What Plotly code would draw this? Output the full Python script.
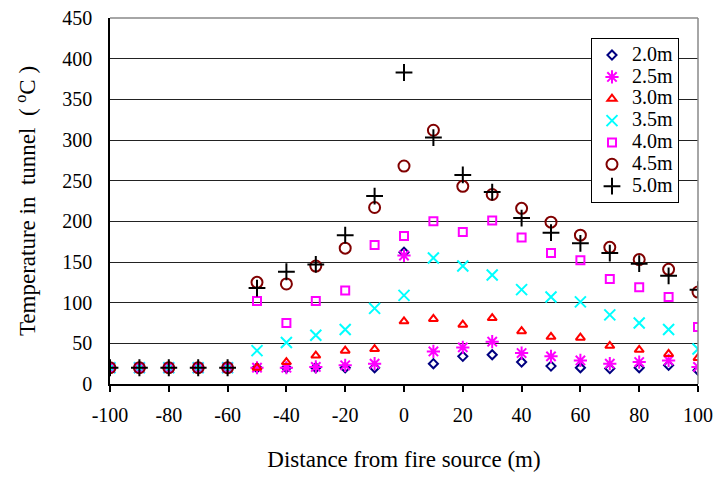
import plotly.graph_objects as go

distance = [-100, -90, -80, -70, -60, -50, -40, -30, -20, -10, 0, 10, 20, 30, 40, 50, 60, 70, 80, 90, 100]

t_2_0 = [20, 20, 20, 20, 20, 20, 20, 20, 20, 20, 162, 25, 34, 36, 27, 22, 20, 19, 20, 23, 17]
t_2_5 = [20, 20, 20, 20, 20, 20, 20, 21, 23, 25, 158, 40, 45, 52, 38, 34, 29, 25, 27, 29, 21]
t_3_0 = [20, 20, 20, 20, 20, 20, 27, 35, 41, 43, 77, 80, 73, 81, 65, 58, 57, 47, 42, 37, 32]
t_3_5 = [20, 20, 20, 20, 20, 41, 51, 60, 67, 93, 109, 155, 145, 134, 116, 107, 101, 85, 75, 67, 43]
t_4_0 = [20, 20, 20, 20, 20, 102, 75, 102, 115, 171, 182, 200, 187, 201, 180, 161, 152, 129, 119, 107, 70]
t_4_5 = [20, 20, 20, 20, 20, 125, 123, 145, 167, 217, 268, 312, 243, 233, 216, 199, 183, 168, 153, 141, 113]
t_5_0 = [20, 20, 20, 20, 20, 118, 138, 147, 183, 231, 383, 303, 257, 236, 204, 186, 173, 161, 148, 133, 116]

series_names = ["2.0m", "2.5m", "3.0m", "3.5m", "4.0m", "4.5m", "5.0m"]
series_values = [t_2_0, t_2_5, t_3_0, t_3_5, t_4_0, t_4_5, t_5_0]
x_ticks = [-100, -80, -60, -40, -20, 0, 20, 40, 60, 80, 100]
x_tick_text = ["-100", "-80", "-60", "-40", "-20", "0", "20", "40", "60", "80", "100"]
y_ticks = [0, 50, 100, 150, 200, 250, 300, 350, 400, 450]

styles = [
    dict(symbol="diamond-open", color="#000080", size=7, lw=2),
    dict(symbol="asterisk-open", color="#FF00FF", size=11, lw=2),
    dict(symbol="triangle-up-open", color="#FF0000", size=8, lw=2),
    dict(symbol="x-thin-open", color="#00FFFF", size=11, lw=2),
    dict(symbol="square-open", color="#FF00FF", size=8, lw=2),
    dict(symbol="circle-open", color="#800000", size=11, lw=2),
    dict(symbol="cross-thin-open", color="#000000", size=12, lw=2),
]

fig = go.Figure()
for name, vals, st in zip(series_names, series_values, styles):
    fig.add_trace(go.Scatter(
        x=distance, y=vals, mode="markers",
        name='<span style="font-size:20px">' + name + '</span>',
        marker=dict(symbol=st["symbol"], size=st["size"], color=st["color"],
                    line=dict(width=st["lw"], color=st["color"])),
    ))

font_family = "Liberation Serif, Times New Roman, serif"
nb = "\u00a0"
y_title = "Temperature in " + nb + "tunnel " + nb + "( <sup>o</sup>C )"
fig.update_layout(
    template="none",
    width=713, height=478,
    margin=dict(l=110, r=15, t=18, b=94),
    paper_bgcolor="white", plot_bgcolor="white",
    font=dict(family=font_family, size=20, color="black"),
    showlegend=True,
    legend=dict(x=0.818, y=0.945, xanchor="left", yanchor="top",
                bgcolor="white", bordercolor="black", borderwidth=1,
                font=dict(family=font_family, size=14.5), tracegroupgap=0,
                itemwidth=30),
    xaxis=dict(range=[-100, 100], tickvals=x_ticks, ticktext=x_tick_text,
               ticks="outside", ticklen=6, tickwidth=1.5,
               tickcolor="black", showline=True, linecolor="black", linewidth=1.5,
               showgrid=False, zeroline=False, automargin=False,
               ticklabelstandoff=6,
               title=dict(text="Distance from fire source (m)", font=dict(size=23), standoff=26),
               tickfont=dict(size=20)),
    yaxis=dict(range=[0, 450], tickvals=y_ticks, ticks="", showline=True,
               linecolor="black", linewidth=1.5, showgrid=True, gridcolor="#222222",
               gridwidth=1, zeroline=False, automargin=False,
               ticklabelstandoff=12,
               title=dict(text=y_title, font=dict(size=23), standoff=20),
               tickfont=dict(size=20)),
)
fig.add_shape(type="line", xref="paper", yref="paper", x0=0, x1=1, y0=1, y1=1,
              line=dict(color="#888888", width=1.5))
fig.add_shape(type="line", xref="paper", yref="paper", x0=1, x1=1, y0=0, y1=1,
              line=dict(color="#888888", width=1.5))

fig.write_html("out.html")
